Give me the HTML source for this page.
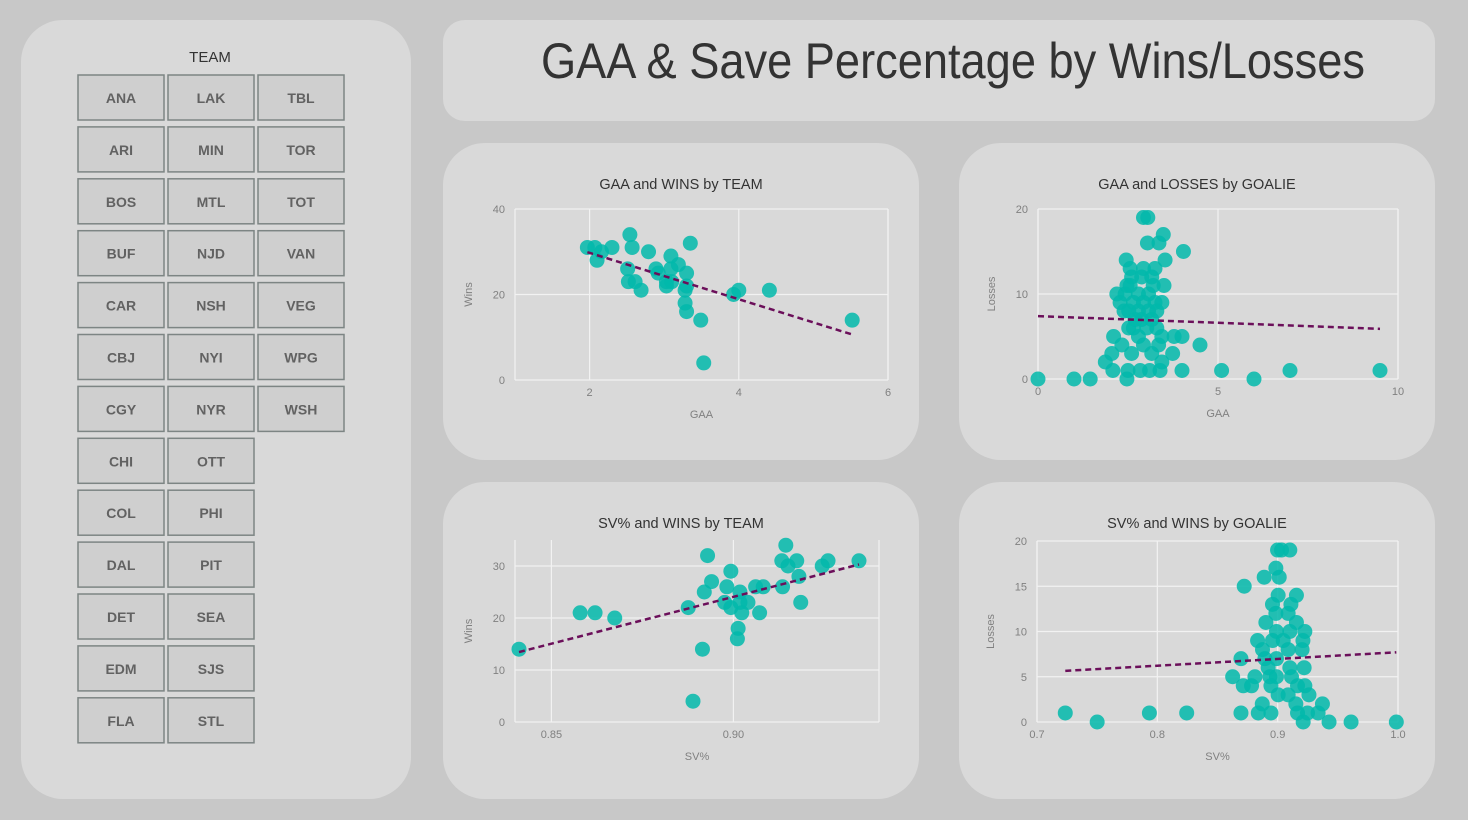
<!DOCTYPE html>
<html><head><meta charset="utf-8"><style>
html,body{margin:0;padding:0;background:#c8c8c8;width:1468px;height:820px;overflow:hidden;font-family:"Liberation Sans",sans-serif}
svg text{font-family:"Liberation Sans",sans-serif}
</style></head><body>
<svg id="root" width="1468" height="820" viewBox="0 0 1468 820" xmlns="http://www.w3.org/2000/svg">
<rect x="0" y="0" width="1468" height="820" fill="#c8c8c8"/>
<rect x="21" y="20" width="390" height="779" rx="42" fill="#d9d9d9"/>
<text x="210" y="62" text-anchor="middle" font-size="15" fill="#333">TEAM</text>
<g id="slicer"></g>
<rect x="443" y="20" width="992" height="101" rx="22" fill="#d9d9d9"/>
<text x="541" y="78" font-size="50" fill="#333" textLength="824" lengthAdjust="spacingAndGlyphs">GAA &amp; Save Percentage by Wins/Losses</text>
<g id="charts"></g>
</svg>
<script>
// ---- data ----
const teams = ["ANA","ARI","BOS","BUF","CAR","CBJ","CGY","CHI","COL","DAL","DET","EDM","FLA","LAK","MIN","MTL","NJD","NSH","NYI","NYR","OTT","PHI","PIT","SEA","SJS","STL","TBL","TOR","TOT","VAN","VEG","WPG","WSH"];

const c1Gaa = [1.97,2.07,2.16,2.10,2.30,2.54,2.57,2.51,2.52,2.61,2.69,2.79,2.89,2.92,3.03,3.03,3.10,3.09,3.09,3.19,3.30,3.35,3.30,3.28,3.28,3.30,3.49,3.53,3.93,4.00,4.41,5.52];
const c1Wins = [31,31,30,28,31,34,31,26,23,23,21,30,26,25,23,22,23,29,26,27,25,32,22,21,18,16,14,4,20,21,21,14];

const c2Gaa = [0,1.0,1.45,5.1,6.0,7.0,9.5,4.04,4.5,4.0,4.0,3.78,3.74,3.53,3.48,3.36,3.04,2.93,3.05,3.5,3.44,2.45,2.56,2.93,3.25,2.19,2.1,2.33,2.05,1.87,2.08,2.5,2.47,2.6,2.84,3.1,3.39,3.44,3.16,3.35,3.44,2.93,2.79,2.52,2.65,2.39,2.28,2.42,2.56,2.6,2.88,3.16,3.2,2.79,3.07,2.65,2.93,3.25,2.79,3.07,3.3,2.88,3.16,3.3,3.02,2.7,2.52,2.47];
const c2Losses = [0,0,0,1,0,1,1,15,4,1,5,5,3,14,17,16,16,19,19,11,9,14,13,13,13,10,5,4,3,2,1,1,0,3,1,1,1,2,3,4,5,4,5,6,6,8,9,10,11,12,12,12,11,10,10,9,9,9,8,8,8,7,7,6,6,7,8,11];
// trend line values (y at min x, y at max x)
const c2Trend = [7.4,5.9];

const c3Sv = [0.8411,0.8579,0.862,0.8674,0.8876,0.8889,0.8915,0.8929,0.892,0.894,0.8982,0.8993,0.8976,0.8993,0.9018,0.9018,0.9023,0.904,0.9013,0.9011,0.9061,0.9082,0.9072,0.9133,0.915,0.9144,0.9135,0.9174,0.918,0.9185,0.9244,0.926,0.9345];
const c3Wins = [14,21,21,20,22,4,14,32,25,27,26,29,23,22,25,23,21,23,18,16,26,26,21,31,30,34,26,31,28,23,30,31,31];

const c4Sv = [0.7235,0.75,0.7934,0.8244,0.8695,0.961,0.9986,0.9427,0.9372,0.9336,0.9248,0.926,0.9226,0.922,0.9203,0.921,0.9226,0.9156,0.9156,0.9101,0.9032,0.8999,0.8985,0.9013,0.8888,0.8722,0.9004,0.8957,0.911,0.9087,0.8985,0.8902,0.899,0.9101,0.8833,0.8957,0.9046,0.8874,0.9087,0.8695,0.8894,0.899,0.8921,0.9101,0.8626,0.8811,0.8935,0.899,0.9115,0.8714,0.8783,0.8944,0.9165,0.9004,0.9087,0.8872,0.9151,0.8839,0.8944,0.9165,0.9212];
const c4Losses = [1,0,1,1,1,0,0,0,2,1,1,3,4,6,8,9,10,11,14,19,19,19,17,16,16,15,14,13,13,12,12,11,10,10,9,9,9,8,8,7,7,7,6,6,5,5,5,5,5,4,4,4,4,3,3,2,2,1,1,1,0];
const c4Trend = [5.65,7.7];

const c1XTicks = [2,4,6], c1YTicks = [0,20,40];
const c2XTicks = [0,5,10], c2YTicks = [0,10,20];
const c3XTicks = [0.85,0.90], c3YTicks = [0,10,20,30];
const c4XTicks = [0.7,0.8,0.9,1.0], c4YTicks = [0,5,10,15,20];

const NS = "http://www.w3.org/2000/svg";
function mk(tag, attrs, parent){const e=document.createElementNS(NS,tag);for(const k in attrs)e.setAttribute(k,attrs[k]);parent.appendChild(e);return e;}

// slicer
const slicer = document.getElementById('slicer');
teams.forEach((t,i)=>{
  const col = Math.floor(i/13), row = i%13;
  const colX = [78,168,258][col];
  const y = 75 + row*51.9;
  const g = mk('g',{},slicer);
  
  
  mk('rect',{x:colX,y:y,width:86,height:45,fill:'#cfcfcf',stroke:'#7d8584','stroke-width':1.5},g);
  const tx = mk('text',{x:colX+43,y:y+28,'text-anchor':'middle','font-size':14,'font-weight':'bold',fill:'#626262'},g);
  tx.textContent = t;
});

// charts
const chartsG = document.getElementById('charts');
function lin(d0,d1,r0,r1){return v=>r0+(v-d0)*(r1-r0)/(d1-d0);}
function fmt(v,dec){return dec?v.toFixed(dec):String(v);}
function chart(cfg){
  const g = mk('g',{},chartsG);
  
  
  const bg = mk('rect',{x:cfg.px,y:cfg.py,width:476,height:317,rx:42,fill:'#d9d9d9'},g);
  
  
  const tt = mk('text',{x:cfg.px+238,y:cfg.py+46,'text-anchor':'middle','font-size':14.5,fill:'#333'},g);
  tt.textContent = cfg.title;
  
  
  const X = lin(cfg.xd[0],cfg.xd[1],cfg.l,cfg.r);
  const Y = lin(cfg.yd[0],cfg.yd[1],cfg.b,cfg.t);
  cfg.yt.forEach(v=>{
    const ln = mk('line',{x1:cfg.l,x2:cfg.r,y1:Y(v),y2:Y(v),stroke:'#f2f2f2','stroke-width':1.2},g);
    
    
    const lb = mk('text',{x:cfg.l-10,y:Y(v)+4,'text-anchor':'end','font-size':11,fill:'#808080'},g);
    lb.textContent = fmt(v,cfg.yDec);
    
    
  });
  cfg.xt.forEach(v=>{
    const ln = mk('line',{x1:X(v),x2:X(v),y1:cfg.t,y2:cfg.b,stroke:'#f2f2f2','stroke-width':1.2},g);
    
    
    const lb = mk('text',{x:X(v),y:cfg.b+16,'text-anchor':'middle','font-size':11,fill:'#808080'},g);
    lb.textContent = fmt(v,cfg.xDec);
    
    
  });
  mk('line',{x1:cfg.l,x2:cfg.l,y1:cfg.t,y2:cfg.b,stroke:'#f2f2f2','stroke-width':1.2},g);
  mk('line',{x1:cfg.r,x2:cfg.r,y1:cfg.t,y2:cfg.b,stroke:'#f2f2f2','stroke-width':1.2},g);
  const xa = mk('text',{x:(cfg.l+cfg.r)/2,y:cfg.b+38,'text-anchor':'middle','font-size':11,fill:'#808080'},g);
  xa.textContent = cfg.xTitle;
  
  
  const ya = mk('text',{x:0,y:0,'text-anchor':'middle','font-size':11,fill:'#808080',transform:`translate(${cfg.l-43},${(cfg.t+cfg.b)/2}) rotate(-90)`},g);
  ya.textContent = cfg.yTitle;
  
  
  cfg.xs.forEach((xv,i)=>{
    const c = mk('circle',{cx:X(xv),cy:Y(cfg.ys[i]),r:7.5,fill:'#01b8aa','fill-opacity':0.85},g);
    
    
  });
  const x0=Math.min(...cfg.xs), x1=Math.max(...cfg.xs);
  let y0,y1;
  if(cfg.trend){y0=cfg.trend[0];y1=cfg.trend[1];}
  else{
    const n=cfg.xs.length;let sx=0,sy=0,sxx=0,sxy=0;
    for(let i=0;i<n;i++){sx+=cfg.xs[i];sy+=cfg.ys[i];sxx+=cfg.xs[i]*cfg.xs[i];sxy+=cfg.xs[i]*cfg.ys[i];}
    const m=(n*sxy-sx*sy)/(n*sxx-sx*sx), b0=(sy-m*sx)/n;
    y0=m*x0+b0;y1=m*x1+b0;
  }
  const tl = mk('line',{x1:X(x0),y1:Y(y0),x2:X(x1),y2:Y(y1),stroke:'#6b0f5a','stroke-width':2.5,'stroke-dasharray':'6 4'},g);
  
  
}
chart({name:'gaa-wins-by-team-chart',title:'GAA and WINS by TEAM',px:443,py:143,l:515,r:888,t:209,b:380,xd:[1,6],yd:[0,40],xt:c1XTicks,yt:c1YTicks,xs:c1Gaa,ys:c1Wins,xTitle:'GAA',yTitle:'Wins'});
chart({name:'gaa-losses-by-goalie-chart',title:'GAA and LOSSES by GOALIE',px:959,py:143,l:1038,r:1398,t:209,b:379,xd:[0,10],yd:[0,20],xt:c2XTicks,yt:c2YTicks,xs:c2Gaa,ys:c2Losses,xTitle:'GAA',yTitle:'Losses',trend:c2Trend});
chart({name:'sv-wins-by-team-chart',title:'SV% and WINS by TEAM',px:443,py:482,l:515,r:879,t:540,b:722,xd:[0.84,0.94],yd:[0,35],xt:c3XTicks,yt:c3YTicks,xs:c3Sv,ys:c3Wins,xTitle:'SV%',yTitle:'Wins',xDec:2});
chart({name:'sv-losses-by-goalie-chart',title:'SV% and WINS by GOALIE',px:959,py:482,l:1037,r:1398,t:541,b:722,xd:[0.7,1.0],yd:[0,20],xt:c4XTicks,yt:c4YTicks,xs:c4Sv,ys:c4Losses,xTitle:'SV%',yTitle:'Losses',xDec:1,trend:c4Trend});
</script>
</body></html>
